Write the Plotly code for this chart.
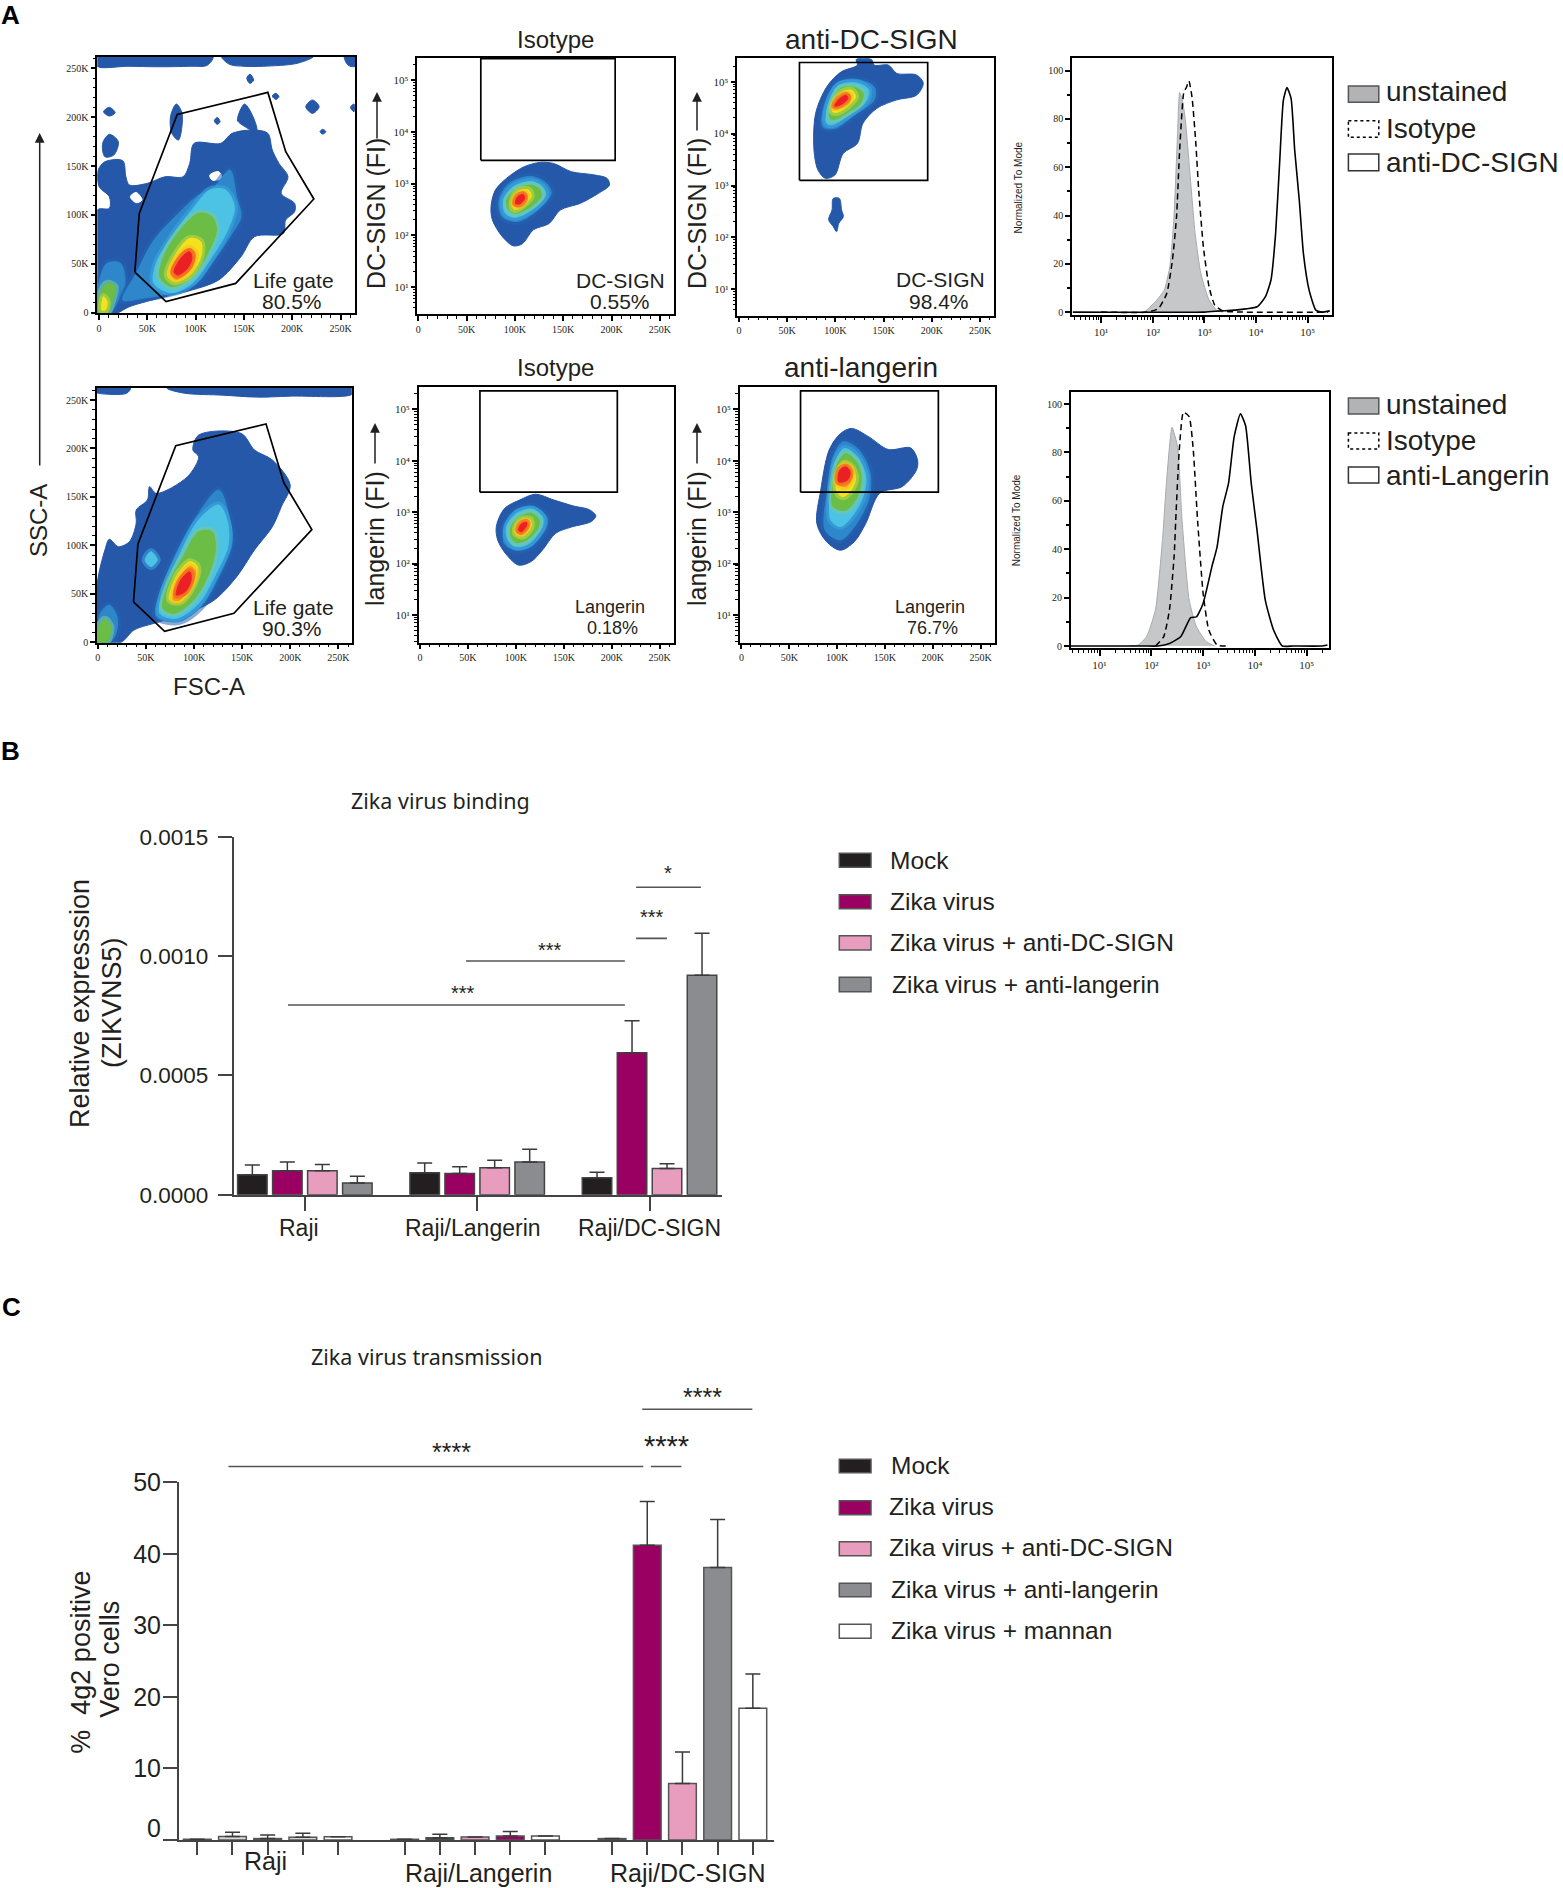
import plotly.graph_objects as go

W, H = 1563, 1888

# colours of the density levels, outermost first
density_colors = ["#2e86cb", "#4cc3e4", "#6bbd45", "#f4e31c", "#f7941e", "#ec2024"]
density_halos = ["rgba(37,100,180,0.55)", "rgba(60,170,225,0.55)", "rgba(120,200,150,0.6)",
                 "rgba(190,215,60,0.6)", "rgba(247,190,30,0.6)", "rgba(240,90,35,0.6)"]
flow_blue = "#2558a8"

# life gate polygon, FSC-A / SSC-A in thousands
life_gate = [(37.1, 41.6), (69.4, 11.3), (141.5, 30), (222.4, 116.3), (193.3, 164.6),
             (174.8, 225.3), (81, 202.8), (41.7, 101.6)]

# ---- life gate, top row
life1_outer = [(-1.8, -0.7), (-1.8, 105), (10.7, 106.7), (10.7, 118.6), (0.1, 128.9), (-0.8, 145.9),
               (6.1, 154.4), (24.6, 155.4), (27.8, 139.1), (31.5, 130.6), (50, 132.3), (68.5, 139.1),
               (87, 139.1), (93.9, 152.7), (98.5, 173.2), (126.2, 173.2), (137.8, 183.4), (160.9, 186.8),
               (174.8, 183.4), (179.4, 166.3), (186.3, 152.7), (195.6, 139.1), (188.6, 122), (202.5, 111.8),
               (202.5, 103.3), (193.2, 94.8), (190.9, 81.1), (160.9, 77.7), (147, 57.3), (123.9, 33.4),
               (96.2, 23.2), (68.5, 16.4), (31.5, 6.2), (17.6, -0.7)]
life1_islands = [
    [(4.7, 205.5), (10.7, 210), (16.7, 204.5), (10.7, 201.1)],
    [(3.8, 173.2), (10.7, 182.4), (20, 174.9), (15.3, 161.2), (6.1, 159.5)],
    [(74, 200.4), (80, 213.4), (86, 203.8), (82.3, 176.6), (75.4, 183.4)],
    [(143.3, 197), (150.7, 213.4), (160.9, 197), (163.2, 185.1), (147, 192.9)],
    [(153, 239.6), (156.3, 244), (160, 237.9), (156.3, 234.5)],
    [(179.4, 221.6), (183.1, 224.3), (186.3, 220.9), (183.1, 218.1)],
    [(214, 210.6), (221, 217.5), (227.9, 210.6), (221, 203.8)],
    [(228.8, 185.1), (231.6, 187.5), (234.8, 185.1), (231.6, 182.7)],
    [(260.3, 210), (264, 213.4), (264, 205.5)],
    [(119.3, 196.3), (122.5, 199.7), (125.3, 195.3), (122.5, 192.6)],
    [(-1.8, 262), (118, 262), (112, 253), (95, 252), (60, 251.5), (30, 252), (-1.8, 252)],
    [(127, 262), (222, 262), (205, 255), (170, 252), (150, 252), (135, 254)],
    [(254, 262), (265, 262), (265, 252), (258, 253)],
]
life1_holes = [
    [(32.4, 118.6), (38.4, 123), (44.5, 115.2), (38.4, 112.5)],
    [(114.7, 140.8), (123.9, 144.2), (127.2, 137.4), (117, 135.7)],
]
life1_levels = [
    [(24.6, 13), (38.4, 40.2), (56.9, 74.3), (82.3, 101.6), (100.8, 118.6), (119.3, 128.9), (135.5, 145.9),
     (142.4, 118.6), (147, 98.2), (137.8, 81.1), (119.3, 53.9), (100.8, 30), (73.1, 19.8), (45.4, 14.7)],
    [(56.9, 30), (59.2, 50.5), (77.7, 81.1), (96.2, 105), (114.7, 125.5), (130.9, 125.5), (140.1, 108.4),
     (133.2, 84.5), (114.7, 53.9), (96.2, 30), (75.4, 20.5)],
    [(62.9, 36.8), (68.5, 60.7), (87, 88), (103.1, 101.6), (117, 98.2), (121.6, 84.5), (112.4, 60.7),
     (96.2, 36.8), (75.4, 26.6)],
    [(70.8, 38.5), (80, 60.7), (93.9, 76), (105.4, 72.6), (105.4, 57.3), (93.9, 38.5), (77.7, 31.7)],
    [(74, 40.2), (82.3, 57.3), (93.9, 65.8), (99.9, 60.7), (93.9, 43.6), (80, 34.1)],
    [(77.7, 41.9), (86, 57.3), (93.9, 62.4), (96.2, 55.6), (91.6, 45.3), (81.4, 38.5)],
]
life1_debris = [
    [(-1.8, -0.7), (1.5, 36.8), (8.4, 50.5), (22.3, 50.5), (26.9, 30), (20, 13), (10.7, -0.7)],
    None,
    [(0, -0.7), (1.5, 19.8), (8.4, 30), (16.7, 26.6), (13, 9.6), (8.4, -0.7)],
    [(3, 2.8), (4.7, 16.4), (8.4, 11.3), (6.6, 2.8)],
]

# ---- life gate, bottom row
life2_outer = [(-0.5, -0.3), (-0.5, 60.9), (7.4, 95.3), (12, 106.3), (21.3, 98.7), (32.9, 103.9), (39.9, 122.8),
               (39.9, 136.5), (51.5, 146.8), (53.8, 160.6), (60.8, 153.7), (93.2, 170.9), (104.8, 191.5),
               (98.8, 198.4), (104.8, 213.9), (148.9, 215.6), (162.8, 198.4), (181.4, 188.1), (199.9, 162.3),
               (190.7, 140), (181.4, 119.3), (162.8, 95.3), (144.3, 67.7), (121.1, 43.7), (93.2, 29.9),
               (58.4, 19.6), (37.6, 12.7), (23.7, -0.3)]
life2_islands = [
    [(-1.5, 262), (34, 262), (30, 257), (10, 256), (-1.5, 258)],
    [(72, 262), (264, 262), (264, 256), (200, 254), (165, 253), (130, 255), (90, 257)],
]
life2_levels = [
    [(60.8, 26.5), (63.1, 47.1), (81.6, 91.8), (102.5, 129.6), (125.7, 157.2), (137.3, 126.2), (139.6, 102.1),
     (125.7, 67.7), (107.2, 36.8), (84, 21.3)],
    [(64.5, 29.9), (67.7, 50.6), (84, 88.4), (104.8, 126.2), (125.7, 141.7), (135, 122.8), (135, 98.7),
     (121.1, 67.7), (104.8, 40.2), (81.6, 24.8)],
    [(67.7, 35.1), (73.7, 60.9), (88.6, 88.4), (104.8, 114.1), (118.8, 114.1), (122, 95.3), (114.1, 67.7),
     (97.9, 42), (79.3, 29.9)],
    [(74.7, 43.7), (81.6, 67.7), (95.6, 83.2), (103.5, 78.1), (100.2, 60.9), (86.3, 42)],
    [(78.4, 43.7), (84, 64.3), (95.6, 78.1), (101.6, 72.9), (95.6, 55.7), (84.9, 43.7)],
    [(81.6, 48.8), (86.3, 64.3), (95.6, 72.9), (97, 64.3), (90.9, 52.3)],
]
life2_debris = [
    [(-0.5, -0.3), (2.8, 29.9), (12, 38.5), (19.9, 26.5), (19, 9.3), (12, -0.3)],
    [(49.2, 84.9), (55.2, 93.5), (61.7, 84.9), (55.2, 78.1)],
    [(0.5, -0.3), (1.4, 16.2), (7.4, 23.7), (13.5, 16.2), (12, 5.8), (8.8, -0.3)],
]

# ---- DC-SIGN, FSC-A (thousands) / log10 fluorescence
iso1_outer = [(98.4, 1.8), (86.9, 1.98), (76.7, 2.3), (75.3, 2.56), (79.9, 2.88), (93.8, 3.14), (110, 3.33),
              (126.1, 3.41), (140, 3.39), (158.5, 3.23), (181.6, 3.17), (195.5, 3.1), (197.8, 2.97),
              (186.2, 2.81), (167.7, 2.62), (147, 2.49), (135.4, 2.23), (119.2, 2.11), (107.7, 1.84)]
iso1_levels = [
    [(86.9, 2.36), (83.6, 2.68), (93.8, 3.0), (116.9, 3.14), (133, 3.0), (137.6, 2.81), (123.8, 2.49), (103, 2.27)],
    [(90.1, 2.43), (88.3, 2.68), (98.4, 2.94), (116.9, 3.04), (128.4, 2.94), (131.7, 2.78), (119.2, 2.52), (100.7, 2.35)],
    [(93.8, 2.49), (91.5, 2.68), (100.7, 2.88), (116.9, 2.97), (126.1, 2.88), (127, 2.75), (116.9, 2.56), (100.7, 2.43)],
    [(97.5, 2.54), (98.4, 2.72), (105.3, 2.87), (114.5, 2.87), (116.9, 2.75), (108.6, 2.59), (100.7, 2.5)],
    [(99.3, 2.59), (99.8, 2.72), (106.7, 2.83), (112.3, 2.78), (110, 2.65), (103, 2.56)],
    [(100.7, 2.62), (103, 2.75), (108.6, 2.79), (110, 2.72), (105.3, 2.61)],
]
dc_outer = [(89.5, 3.14), (81.9, 3.3), (77.8, 3.68), (79.5, 4.39), (91, 4.9), (106, 5.19), (122.8, 5.32),
            (121.6, 5.43), (137.4, 5.43), (140.3, 5.32), (154.9, 5.32), (163.7, 5.16), (184.1, 5.13),
            (191.1, 4.97), (184.1, 4.74), (163.7, 4.65), (143.2, 4.49), (128.6, 4.2), (122.8, 3.81),
            (108.2, 3.62), (99.4, 3.2)]
dc_islands = [[(97.7, 2.75), (104.1, 2.75), (106.4, 2.53), (108.2, 2.4), (103.5, 2.27), (101.2, 2.11),
               (97.7, 2.21), (93, 2.34), (96.5, 2.53)]]
dc_levels = [
    [(87, 4.13), (88, 4.52), (101, 4.97), (119.9, 5.05), (140.3, 4.9), (140.3, 4.65), (119.9, 4.36), (99.4, 4.1)],
    [(91, 4.2), (92, 4.52), (103, 4.92), (122.8, 4.97), (134.5, 4.84), (131.6, 4.62), (114, 4.36), (96.5, 4.17)],
    [(94.5, 4.29), (95.5, 4.52), (105.3, 4.87), (119.9, 4.89), (128.6, 4.78), (125.7, 4.58), (111.1, 4.39), (99.4, 4.27)],
    [(97, 4.42), (99, 4.62), (108.2, 4.81), (117, 4.83), (121, 4.71), (114, 4.55), (103.5, 4.42)],
    [(98, 4.51), (101.2, 4.65), (109.4, 4.76), (115.2, 4.74), (112.9, 4.62), (105.3, 4.52)],
    [(99.4, 4.53), (103.5, 4.66), (111.1, 4.74), (112.9, 4.68), (107, 4.57)],
]

# ---- langerin
iso2_outer = [(102.9, 1.97), (90.3, 2.17), (81, 2.46), (79.6, 2.72), (88, 3.07), (104.3, 3.24), (120.6, 3.35),
              (139.2, 3.24), (160.2, 3.12), (176.5, 3.05), (183.4, 2.93), (178.8, 2.82), (157.8, 2.71),
              (141.5, 2.59), (127.6, 2.26), (115.9, 2.04)]
iso2_levels = [
    [(88, 2.39), (88, 2.72), (99.7, 3.04), (118.3, 3.11), (132.2, 2.91), (132.2, 2.72), (115.9, 2.33), (99.7, 2.26)],
    [(91.7, 2.46), (90.3, 2.72), (101, 2.98), (116.9, 3.06), (127.6, 2.91), (127.6, 2.72), (113.6, 2.39), (99.7, 2.33)],
    [(95, 2.52), (95, 2.72), (104.3, 2.91), (116, 2.98), (124.3, 2.85), (122.9, 2.69), (111.3, 2.46), (99.7, 2.41)],
    [(99.7, 2.59), (101, 2.75), (107.6, 2.86), (115, 2.85), (115.9, 2.72), (107.6, 2.54)],
    [(101, 2.62), (102.9, 2.75), (109, 2.83), (113.1, 2.78), (110.4, 2.65), (104.3, 2.58)],
    [(102.9, 2.65), (105.7, 2.77), (111.3, 2.8), (110.4, 2.71), (105.7, 2.62)],
]
lang_outer = [(103.5, 2.26), (88.8, 2.43), (78.8, 2.78), (82.9, 3.43), (91.7, 4.21), (103.5, 4.53), (115.2, 4.63),
              (132.9, 4.47), (153.5, 4.22), (177, 4.25), (184.1, 4.01), (182.9, 3.82), (168.2, 3.5),
              (144.6, 3.37), (129.9, 2.78), (118.2, 2.43)]
lang_levels = [
    [(87.6, 2.65), (90, 3.43), (95.8, 4.08), (106.4, 4.37), (122.9, 4.21), (134.6, 3.75), (132.9, 3.24), (118.2, 2.72), (103.5, 2.46)],
    [(93.5, 2.85), (93.5, 3.43), (99.3, 4.02), (107.6, 4.24), (121.1, 4.08), (130, 3.69), (127, 3.3), (115.2, 2.91), (103.5, 2.72)],
    [(95.8, 3.11), (95.8, 3.56), (100.5, 3.95), (109.3, 4.14), (121.1, 3.95), (125.2, 3.63), (121.1, 3.3), (109.3, 3.04)],
    [(99.3, 3.43), (100.5, 3.75), (107.6, 3.95), (115.2, 3.88), (119.4, 3.66), (113.5, 3.4), (105.2, 3.3)],
    [(100.5, 3.56), (101.7, 3.79), (107.6, 3.92), (114, 3.85), (115.2, 3.66), (109.3, 3.5)],
    [(101.7, 3.59), (102.9, 3.82), (109.3, 3.88), (113.5, 3.79), (111.1, 3.63)],
]

# gates: FSC-A low, high, log10 fluorescence low, high
iso1_gate = (64.7, 203.8, 3.45, 5.41)
dc_gate = (62.7, 195.7, 3.10, 5.37)
iso2_gate = (62.5, 205.8, 3.39, 5.36)
lang_gate = (61.8, 205.8, 3.39, 5.36)

# ---- histograms: log10 fluorescence, normalized to mode
hist1_unstained_x = [1.84, 2.05, 2.22, 2.33, 2.41, 2.48, 2.52, 2.57, 2.63, 2.71, 2.82, 2.93, 3.09, 3.25, 3.36]
hist1_unstained_y = [0, 4.3, 9.1, 18.8, 39.5, 74, 90.9, 88, 79.8, 60, 32.6, 16, 5, 0.5, 0]
hist1_isotype_x = [1.0, 1.89, 2.11, 2.27, 2.38, 2.46, 2.52, 2.6, 2.65, 2.7, 2.76, 2.83, 2.89, 2.98, 3.09, 3.2, 3.36, 3.74, 5.4]
hist1_isotype_y = [0, 0, 1.5, 7.7, 21.5, 39.5, 67, 90.9, 93, 95.7, 89, 71, 50.4, 27, 10.5, 2.9, 0.5, 0, 0]
hist1_anti_x = [0.45, 3.0, 3.31, 3.58, 4.02, 4.18, 4.29, 4.38, 4.46, 4.53, 4.6, 4.68, 4.75, 4.84, 4.92, 5.03, 5.16, 5.27, 5.43]
hist1_anti_y = [0, 0, 0.5, 0.8, 2.2, 6.3, 13.3, 32.6, 62.8, 87.7, 93, 88.4, 67, 46, 24, 9, 0.8, 0, 0.5]

hist2_unstained_x = [1.59, 1.75, 1.91, 2.08, 2.22, 2.29, 2.4, 2.51, 2.59, 2.73, 2.87, 3.06, 3.22]
hist2_unstained_y = [0, 0.4, 3.9, 14.9, 45, 67, 90.4, 82, 53, 19, 8, 1.8, 0]
hist2_isotype_x = [2.08, 2.24, 2.35, 2.44, 2.48, 2.54, 2.62, 2.73, 2.81, 2.89, 3.0, 3.11, 3.27, 3.49]
hist2_isotype_y = [0, 3.9, 14.9, 37, 56, 81, 96.6, 94.8, 81, 53, 21.8, 6.6, 0.4, 0]
hist2_anti_x = [0.45, 1.86, 2.13, 2.35, 2.57, 2.76, 2.87, 3.0, 3.17, 3.27, 3.38, 3.49, 3.6, 3.72, 3.82, 3.93, 4.04, 4.2, 4.36, 4.53, 4.74, 5.29, 5.4]
hist2_anti_y = [0, 0, 0, 1, 3.9, 11.7, 12, 17.6, 32.8, 41, 57.6, 67.2, 86.5, 96, 91, 67, 48, 19, 6.6, 0, 0, 0, 0.4]

log_tick_labels = ["10\u00b9", "10\u00b2", "10\u00b3", "10\u2074", "10\u2075"]

# ---- panel B
cells_b = ["Raji", "Raji/Langerin", "Raji/DC-SIGN"]
series_names_b = ["Mock", "Zika virus", "Zika virus + anti-DC-SIGN", "Zika virus + anti-langerin"]
binding_values = [
    [8.4e-5, 9.2e-5, 7.1e-5],
    [1.0e-4, 8.9e-5, 5.95e-4],
    [1.0e-4, 1.13e-4, 1.1e-4],
    [4.9e-5, 1.37e-4, 9.2e-4],
]
binding_errors = [
    [4.0e-5, 4.1e-5, 2.3e-5],
    [3.7e-5, 2.8e-5, 1.34e-4],
    [2.7e-5, 3.1e-5, 2.0e-5],
    [2.8e-5, 5.3e-5, 1.75e-4],
]
# x in groups, y in relative expression
binding_sig = [
    (1.922, 2.298, 1.288e-3),
    (1.922, 2.101, 1.074e-3),
    (0.935, 1.857, 9.79e-4),
    (-0.098, 1.857, 7.95e-4),
]

# ---- panel C
cells_c = ["Raji", "Raji/Langerin", "Raji/DC-SIGN"]
series_names_c = series_names_b + ["Zika virus + mannan"]
transmission_values = [
    [0.1, 0.1, 0.2],
    [0.5, 0.33, 41.2],
    [0.2, 0.42, 7.9],
    [0.37, 0.56, 38.1],
    [0.47, 0.56, 18.4],
]
transmission_errors = [
    [0, 0, 0],
    [0.6, 0.47, 6.1],
    [0.5, 0, 4.4],
    [0.56, 0.64, 6.7],
    [0, 0, 4.8],
]
transmission_sig = [
    (1.806, 2.337, 60.2),
    (1.848, 1.995, 52.2),
    (-0.189, 1.811, 52.2),
]

mock_color = "#231f20"
zika_color = "#990061"
dc_color = "#e89dbf"
lang_color = "#8a8c8f"
bar_colors_b = [mock_color, zika_color, dc_color, lang_color]
bar_colors_c = [
    [mock_color] * 3,
    ["#d9d9d9", "#333333", zika_color],
    [mock_color, dc_color, dc_color],
    ["#d9d9d9", zika_color, lang_color],
    ["#ffffff"] * 3,
]

fig = go.Figure()
annotations = []
shapes = []

NARROW = "Liberation Sans Narrow"
SANS = "Liberation Sans"
NOTO = "Noto Sans"
INK = "#231f20"


def px(x, y):
    return x / W, 1 - y / H


def label(x, y, text, size=21, family=SANS, angle=0, anchor="center", weight="normal", color=INK):
    xp, yp = px(x, y)
    annotations.append(dict(x=xp, y=yp, xref="paper", yref="paper", text=text, showarrow=False,
                            xanchor=anchor, yanchor="middle", textangle=angle,
                            font=dict(size=size, family=family, color=color, weight=weight)))


def arrow(x, y0, y1):
    xp, yp = px(x, y1)
    annotations.append(dict(x=xp, y=yp, xref="paper", yref="paper", text="", showarrow=True, ax=0, ay=y0 - y1,
                            arrowhead=2, arrowsize=1.3, arrowwidth=1.5, arrowcolor=INK))


def swatch(x0, x1, y0, y1, fill, dash="solid", line="#555555"):
    a, b = px(x0, y0)
    c, d = px(x1, y1)
    shapes.append(dict(type="rect", xref="paper", yref="paper", x0=a, x1=c, y0=b, y1=d, fillcolor=fill,
                       line=dict(color=line, width=1.5, dash=dash)))


def flow_axes(n, left, right, top, bottom, xrange, yrange, ylog):
    sx = "" if n == 1 else str(n)
    minor_x = dict(ticks="outside", ticklen=3, tickwidth=1, tick0=0, dtick=10, tickcolor="black")
    xa = dict(domain=[left / W, right / W], range=xrange, anchor="y" + sx, showgrid=False, zeroline=False,
              showline=True, mirror=True, linecolor="black", linewidth=1.5, ticks="outside", ticklen=5,
              tickwidth=1.5, tickcolor="black", tickvals=[0, 50, 100, 150, 200, 250],
              ticktext=["0", "50K", "100K", "150K", "200K", "250K"], minor=minor_x,
              tickfont=dict(size=10, family=NARROW, color=INK))
    ya = dict(domain=[1 - bottom / H, 1 - top / H], range=yrange, anchor="x" + sx, showgrid=False, zeroline=False,
              showline=True, mirror=True, linecolor="black", linewidth=1.5, ticks="outside", ticklen=5,
              tickwidth=1.5, tickcolor="black", tickfont=dict(size=10, family=NARROW, color=INK))
    if ylog:
        ya.update(log_axis())
    else:
        ya.update(tickvals=[0, 50, 100, 150, 200, 250], ticktext=["0", "50K", "100K", "150K", "200K", "250K"],
                  minor=minor_x)
    fig.update_layout({"xaxis" + sx: xa, "yaxis" + sx: ya})


def log_axis():
    minors = [m * 10 ** k for k in range(0, 6) for m in range(2, 10)]
    return dict(type="log", tickvals=[10, 100, 1000, 10000, 100000],
                ticktext=log_tick_labels,
                tickfont=dict(size=11, family=NARROW, color=INK),
                minor=dict(ticks="outside", ticklen=3, tickwidth=1, tickmode="array", tickvals=minors,
                           tickcolor="black"))


def hist_axes(n, left, right, top, bottom, xrange, yrange):
    sx = str(n)
    xa = dict(domain=[left / W, right / W], range=xrange, anchor="y" + sx, showgrid=False, zeroline=False,
              showline=True, mirror=True, linecolor="black", linewidth=1.5, ticks="outside", ticklen=6,
              tickwidth=1.5, tickcolor="black")
    xa.update(log_axis())
    ya = dict(domain=[1 - bottom / H, 1 - top / H], range=yrange, anchor="x" + sx, showgrid=False, zeroline=False,
              showline=True, mirror=True, linecolor="black", linewidth=1.5, ticks="outside", ticklen=5,
              tickwidth=1.5, tickcolor="black", tickvals=[0, 20, 40, 60, 80, 100],
              minor=dict(ticks="outside", ticklen=3, tick0=0, dtick=10, tickcolor="black"),
              tickfont=dict(size=10, family=NARROW, color=INK))
    fig.update_layout({"xaxis" + sx: xa, "yaxis" + sx: ya})


def blob(n, points, color, ylog=False, halo=None):
    sx = "" if n == 1 else str(n)
    pts = points + points[:1]
    xs = [p[0] for p in pts]
    ys = [10 ** p[1] if ylog else p[1] for p in pts]
    if halo:
        fig.add_trace(go.Scatter(x=xs, y=ys, xaxis="x" + sx, yaxis="y" + sx, mode="lines", hoverinfo="skip",
                                 line=dict(color=halo, width=7, shape="spline", smoothing=0.9)))
    fig.add_trace(go.Scatter(x=xs, y=ys, xaxis="x" + sx, yaxis="y" + sx, mode="lines",
                             fill="toself", fillcolor=color, hoverinfo="skip",
                             line=dict(color=color, width=1, shape="spline", smoothing=0.9)))


def gate_line(n, xs, ys):
    sx = "" if n == 1 else str(n)
    fig.add_trace(go.Scatter(x=xs, y=ys, xaxis="x" + sx, yaxis="y" + sx, mode="lines",
                             line=dict(color="black", width=1.7)))


def rect_gate(n, gate):
    x0, x1, y0, y1 = gate
    gate_line(n, [x0, x1, x1, x0, x0], [10 ** y0, 10 ** y0, 10 ** y1, 10 ** y1, 10 ** y0])


def density(n, outer, islands, levels, ylog=False, holes=(), debris=()):
    blob(n, outer, flow_blue, ylog)
    for island in islands:
        blob(n, island, flow_blue, ylog)
    for hole in holes:
        blob(n, hole, "white", ylog)
    for i, shape in enumerate(debris):
        if shape:
            blob(n, shape, density_colors[i], ylog, density_halos[i])
    for i, shape in enumerate(levels):
        blob(n, shape, density_colors[i], ylog, density_halos[i])


# ---- panel A, dot plots
flow_axes(1, 97.3, 355, 56.7, 313.3, [-1.76, 265], [-0.6, 261.8], False)
flow_axes(2, 417.4, 674, 57.7, 314.3, [-0.93, 264.7], [0.479, 5.43], True)
flow_axes(3, 737.4, 994.2, 58.3, 315.7, [-1.66, 264.7], [0.491, 5.451], True)
flow_axes(5, 96.9, 351.8, 388, 642.7, [-0.94, 263.9], [-0.4, 262.4], False)
flow_axes(6, 418.8, 674, 387.3, 642.7, [-1.25, 264.9], [0.461, 5.43], True)
flow_axes(7, 739.7, 995.3, 387.3, 642.7, [-1.78, 265.3], [0.461, 5.43], True)
hist_axes(4, 1071.9, 1331.5, 58.3, 315, [0.432, 5.463], [-1.2, 105.1])
hist_axes(8, 1070.8, 1329.2, 391.7, 648.3, [0.446, 5.434], [-0.95, 105.1])

density(1, life1_outer, life1_islands, life1_levels, holes=life1_holes, debris=life1_debris)
density(5, life2_outer, life2_islands, life2_levels, debris=life2_debris)
density(2, iso1_outer, [], iso1_levels, ylog=True)
density(3, dc_outer, dc_islands, dc_levels, ylog=True)
density(6, iso2_outer, [], iso2_levels, ylog=True)
density(7, lang_outer, [], lang_levels, ylog=True)

closed_gate = life_gate + life_gate[:1]
for n in (1, 5):
    gate_line(n, [p[0] for p in closed_gate], [p[1] for p in closed_gate])
rect_gate(2, iso1_gate)
rect_gate(3, dc_gate)
rect_gate(6, iso2_gate)
rect_gate(7, lang_gate)


def histogram(n, ux, uy, ix, iy, ax, ay):
    sx = str(n)
    fig.add_trace(go.Scatter(x=[10 ** v for v in ux], y=uy, xaxis="x" + sx, yaxis="y" + sx, mode="lines",
                             fill="tozeroy", fillcolor="#c6c7c9", line=dict(color="#a7a9ac", width=1, shape="spline", smoothing=0.5)))
    fig.add_trace(go.Scatter(x=[10 ** v for v in ix], y=iy, xaxis="x" + sx, yaxis="y" + sx, mode="lines",
                             line=dict(color="black", width=1.5, dash="6px,4px", shape="spline", smoothing=0.5)))
    fig.add_trace(go.Scatter(x=[10 ** v for v in ax], y=ay, xaxis="x" + sx, yaxis="y" + sx, mode="lines",
                             line=dict(color="black", width=1.6, shape="spline", smoothing=0.5)))


histogram(4, hist1_unstained_x, hist1_unstained_y, hist1_isotype_x, hist1_isotype_y, hist1_anti_x, hist1_anti_y)
histogram(8, hist2_unstained_x, hist2_unstained_y, hist2_isotype_x, hist2_isotype_y, hist2_anti_x, hist2_anti_y)

# panel A, texts
label(10, 15, "A", 26, weight="bold", color="black")
label(555, 39, "Isotype", 24)
label(871, 39, "anti-DC-SIGN", 28)
label(555, 367, "Isotype", 24)
label(861, 367, "anti-langerin", 28)
label(293, 280, "Life gate", 21)
label(292, 302, "80.5%", 21)
label(293, 607, "Life gate", 21)
label(292, 628, "90.3%", 21)
label(620, 280, "DC-SIGN", 21)
label(620, 302, "0.55%", 21)
label(940, 279, "DC-SIGN", 21)
label(939, 302, "98.4%", 21)
label(610, 607, "Langerin", 18)
label(612, 628, "0.18%", 18)
label(930, 607, "Langerin", 18)
label(932, 628, "76.7%", 18)
label(376, 214, "DC-SIGN (FI)", 25, angle=-90)
label(697, 214, "DC-SIGN (FI)", 25, angle=-90)
label(375, 539, "langerin (FI)", 25, angle=-90)
label(697, 539, "langerin (FI)", 25, angle=-90)
arrow(377, 140, 92)
arrow(697, 132, 92)
arrow(375, 465, 423)
arrow(697, 465, 423)
arrow(39.7, 467, 133)
label(39, 521, "SSC-A", 24, angle=-90)
label(208.5, 686, "FSC-A", 24)
label(1018.4, 187, "Normalized To Mode", 10, angle=-90)
label(1016.7, 520.5, "Normalized To Mode", 10, angle=-90)

# panel A, legends
swatch(1348.4, 1378.8, 86, 102.3, "#b1b3b5")
swatch(1348.4, 1378.8, 120.7, 137.3, "white", dash="3px,3px", line="black")
swatch(1348.4, 1378.8, 154, 170.7, "white", line="#333333")
label(1383.5, 92, "unstained", 28, anchor="left")
label(1383.5, 128, "Isotype", 28, anchor="left")
label(1383.5, 163, "anti-DC-SIGN", 28, anchor="left")
swatch(1348.4, 1378.8, 398, 414, "#b1b3b5")
swatch(1348.4, 1378.8, 433, 449, "white", dash="3px,3px", line="black")
swatch(1348.4, 1378.8, 467, 483, "white", line="#333333")
label(1383.5, 404, "unstained", 28, anchor="left")
label(1383.5, 440, "Isotype", 28, anchor="left")
label(1383.5, 475, "anti-Langerin", 28, anchor="left")

# ---- panel B
B_STEP = 0.2031
B_WIDTH = 0.1712
for i, name in enumerate(series_names_b):
    fig.add_trace(go.Bar(x=[g + (i - 1.5) * B_STEP for g in range(len(cells_b))], y=binding_values[i], name=name,
                         xaxis="x9", yaxis="y9", width=B_WIDTH, marker=dict(color=bar_colors_b[i], line=dict(color="#444444", width=1.5)),
                         error_y=dict(type="data", symmetric=False, array=binding_errors[i], arrayminus=[0, 0, 0],
                                      color="#3a3a3a", thickness=1.5, width=7.5)))
for x0, x1, y in binding_sig:
    fig.add_trace(go.Scatter(x=[x0, x1], y=[y, y], xaxis="x9", yaxis="y9", mode="lines",
                             line=dict(color="#555555", width=1.6)))

bar_tick = dict(showgrid=False, zeroline=False, showline=True, linecolor="#444444", linewidth=1.5, ticks="outside",
                tickcolor="#444444", tickwidth=1.5)
fig.update_layout(
    xaxis9=dict(domain=[233.5 / W, 721.9 / W], range=[-0.414, 2.42], anchor="y9", tickvals=[0, 1, 2],
                showticklabels=False, ticklen=15, **bar_tick),
    yaxis9=dict(domain=[1 - 1194.7 / H, 1 - 836.7 / H], range=[0, 0.0015], anchor="x9", tickvals=[0, 0.0005, 0.001, 0.0015],
                ticktext=["0.0000", "0.0005", "0.0010", "0.0015"], ticklen=14, ticklabelstandoff=5,
                tickfont=dict(size=22.5, family=SANS, color=INK), **bar_tick),
)
label(10, 751, "B", 26, weight="bold", color="black")
label(440, 800.7, "Zika virus binding", 21.5, NOTO)
label(80, 1004, "Relative expresssion", 27, angle=-90)
label(111.6, 1002.5, "(ZIKVNS5)", 27, angle=-90)
label(298.6, 1228, cells_b[0], 23)
label(473, 1228, cells_b[1], 23)
label(649, 1228, cells_b[2], 23)
for x, y, stars in [(667.9, 868, "*"), (651.8, 912, "***"), (549.6, 944.5, "***"), (462.5, 988, "***")]:
    label(x, y + 5, stars, 20)

legend_b_rows = [(853.3, 867.3, 860, 887.5), (894.7, 908.7, 901.7, 887.5), (935.7, 950, 942.3, 887.5), (977.3, 991.7, 984, 889.5)]
for (y0, y1, yt, xt), name, color in zip(legend_b_rows, series_names_b, bar_colors_b):
    swatch(839.3, 871, y0, y1, color)
    label(xt, yt, name, 24.5, anchor="left")

# ---- panel C
C_STEP = 0.1697
C_WIDTH = 0.1336
for i, name in enumerate(series_names_c):
    fig.add_trace(go.Bar(x=[g + (i - 2) * C_STEP for g in range(len(cells_c))], y=transmission_values[i], name=name,
                         xaxis="x10", yaxis="y10", width=C_WIDTH, marker=dict(color=bar_colors_c[i], line=dict(color="#555555", width=1.5)),
                         error_y=dict(type="data", symmetric=False, array=transmission_errors[i], arrayminus=[0, 0, 0],
                                      color="#3a3a3a", thickness=1.5, width=7.5)))
for x0, x1, y in transmission_sig:
    fig.add_trace(go.Scatter(x=[x0, x1], y=[y, y], xaxis="x10", yaxis="y11", mode="lines",
                             line=dict(color="#555555", width=1.6)))

fig.update_layout(
    xaxis10=dict(domain=[178.7 / W, 773.5 / W], range=[-0.429, 2.439], anchor="y10",
                 tickvals=[g + (i - 2) * C_STEP for g in range(3) for i in range(5)], showticklabels=False,
                 ticklen=13, **bar_tick),
    yaxis10=dict(domain=[1 - 1840 / H, 1 - 1482.3 / H], range=[0, 50], anchor="x10", tickvals=[0, 10, 20, 30, 40, 50],
                 ticktext=["", "10", "20", "30", "40", "50"], ticklen=14, ticklabelstandoff=-3,
                 tickfont=dict(size=25, family=SANS, color=INK), **bar_tick),
    yaxis11=dict(domain=[1 - 1482.3 / H, 1 - 1382.1 / H], range=[50, 64], anchor="x10", visible=False),
)
label(153.6, 1828, "0", 25)
label(265, 1861, cells_c[0], 25)
label(478.7, 1873, cells_c[1], 25)
label(688, 1873, cells_c[2], 25)
label(11, 1307, "C", 26, weight="bold", color="black")
label(426, 1356.7, "Zika virus transmission", 21.5, NOTO)
label(81, 1662.7, "%  4g2 positive", 27, angle=-90)
label(109.8, 1659, "Vero cells", 27, angle=-90)
for x, y, size in [(702, 1391, 25), (666, 1440, 29), (452, 1446, 25)]:
    label(x, y + 6, "****", size)

legend_c_rows = [(1459.3, 1472.7, 1465, 888.5), (1500.7, 1514.7, 1506.7, 887), (1541.7, 1555.7, 1547.3, 887),
                 (1583.3, 1596.7, 1589, 889), (1624.3, 1638.3, 1630.7, 889)]
legend_c_colors = bar_colors_b + ["#ffffff"]
for (y0, y1, yt, xt), name, color in zip(legend_c_rows, series_names_c, legend_c_colors):
    swatch(839.3, 871, y0, y1, color)
    label(xt, yt, name, 24.5, anchor="left")

fig.update_layout(width=W, height=H, margin=dict(l=0, r=0, t=0, b=0, autoexpand=False), paper_bgcolor="white",
                  plot_bgcolor="white", showlegend=False, barmode="overlay", annotations=annotations, shapes=shapes)
fig.update_xaxes(automargin=False)
fig.update_yaxes(automargin=False)

# the page's default body margin would shift the whole figure
fig.write_html("out.html", config={"displayModeBar": False}, post_script="document.body.style.margin='0';")
